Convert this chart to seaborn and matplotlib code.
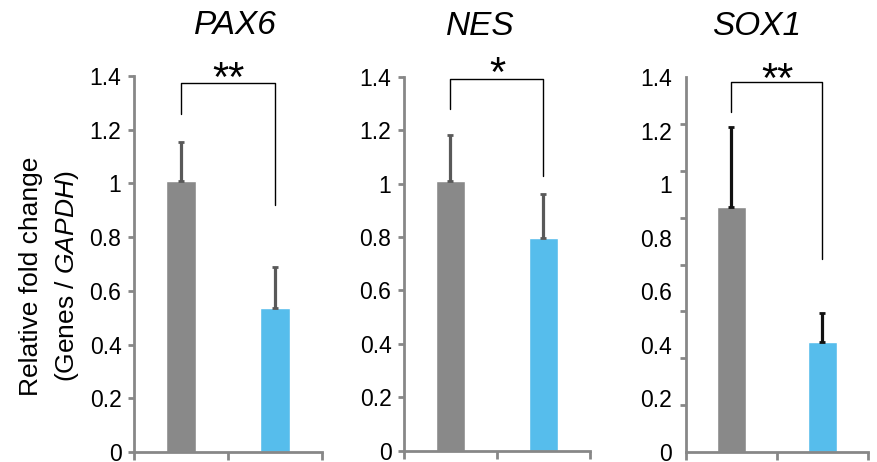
import numpy as np
import pandas as pd
import seaborn as sns
import matplotlib.pyplot as plt
from matplotlib.ticker import FixedLocator, FuncFormatter, NullFormatter

# values
genes = ["PAX6", "NES", "SOX1"]
groups = ["Control", "Treated"]
pax6_mean = [1.01, 0.535]
pax6_err = [0.145, 0.155]
nes_mean = [1.01, 0.795]
nes_err = [0.17, 0.165]
sox1_mean = [0.915, 0.41]
sox1_err = [0.30, 0.11]
stars = ["**", "*", "**"]
# bracket: top, left leg end, right leg end
bracket_top = [1.375, 1.39, 1.38]
bracket_left = [1.26, 1.28, 1.27]
bracket_right = [0.92, 1.03, 0.72]
star_base = [1.345, 1.365, 1.345]
yticks = [0, 0.2, 0.4, 0.6, 0.8, 1.0, 1.2, 1.4]

means = [pax6_mean, nes_mean, sox1_mean]
errs = [pax6_err, nes_err, sox1_err]

sns.set_style("white")
plt.rcParams['font.family'] = ['Liberation Sans', 'DejaVu Sans']
plt.rcParams['text.color'] = 'black'
plt.rcParams['mathtext.fontset'] = 'custom'
plt.rcParams['mathtext.rm'] = 'Liberation Sans'
plt.rcParams['mathtext.it'] = 'Liberation Sans:italic'

bar_colors = ["#898989", "#56BDEC"]
spine_color = "#878787"
err_colors = ["#595959", "#595959", "#111111"]

# axes boxes in pixels (left, top, right, bottom) of an 878x462 canvas
W, H = 878, 462
boxes = [(134, 76, 322, 452), (404, 76.7, 590, 450.7), (686, 77, 868, 452)]
title_x = [0.537, 0.409, 0.39]

fig = plt.figure(figsize=(8.78, 4.62), dpi=100)

for i, gene in enumerate(genes):
    l, t, r, b = boxes[i]
    ax = fig.add_axes([l / W, 1 - b / H, (r - l) / W, (b - t) / H])
    df = pd.DataFrame({"group": groups, "value": means[i]})
    sns.barplot(data=df, x="group", y="value", hue="group", palette=bar_colors,
                width=0.31, errorbar=None, legend=False, ax=ax, saturation=1)
    # upper error bars only
    ax.errorbar([0, 1], means[i], yerr=[[0, 0], errs[i]], fmt="none",
                ecolor=err_colors[i], elinewidth=2.3, capsize=2.5, capthick=2,
                zorder=3)

    ax.set_ylim(0, 1.4)
    ax.set_xlim(-0.5, 1.5)
    ax.set_xlabel("")
    ax.set_ylabel("")

    for s in ["top", "right"]:
        ax.spines[s].set_visible(False)
    for s in ["left", "bottom"]:
        ax.spines[s].set_color(spine_color)
        ax.spines[s].set_linewidth(2)

    ax.xaxis.set_major_locator(FixedLocator([-0.5, 0.5, 1.5]))
    ax.xaxis.set_major_formatter(NullFormatter())
    ax.tick_params(axis="x", direction="out", length=6, width=2,
                   color=spine_color, bottom=True)

    ax.yaxis.set_major_locator(FixedLocator(yticks))
    ax.yaxis.set_major_formatter(FuncFormatter(lambda v, p: f"{v:g}"))
    if i == 2:
        # odd excel axis: marks do not line up with the labels
        ax.yaxis.set_minor_locator(FixedLocator(list(np.linspace(0, 1.4, 9))))
        ax.tick_params(axis="y", which="major", length=0, pad=10)
        ax.tick_params(axis="y", which="minor", direction="out", length=4,
                       width=2, color=spine_color, left=True)
    else:
        ax.tick_params(axis="y", which="major", direction="out", length=4,
                       width=2, color=spine_color, left=True, pad=5)
    ax.tick_params(axis="y", labelsize=16.5, labelcolor="black")

    # significance bracket
    ax.plot([0, 0, 1, 1], [bracket_left[i], bracket_top[i], bracket_top[i], bracket_right[i]],
            color="black", lw=1, clip_on=False)
    ax.text(0.5, star_base[i], stars[i], ha="center", va="baseline",
            fontsize=30, clip_on=False)

    ax.text(title_x[i], 1.135, gene, transform=ax.transAxes, ha="center",
            va="center", fontsize=24, style="italic")

fig.text(50 / W, 1 - 276 / H, "Relative fold change\n(Genes / $\\it{GAPDH}$)",
         rotation=90, ha="center", va="center", multialignment="center",
         fontsize=19, linespacing=1.45)

fig.savefig("out.png", dpi=100)
